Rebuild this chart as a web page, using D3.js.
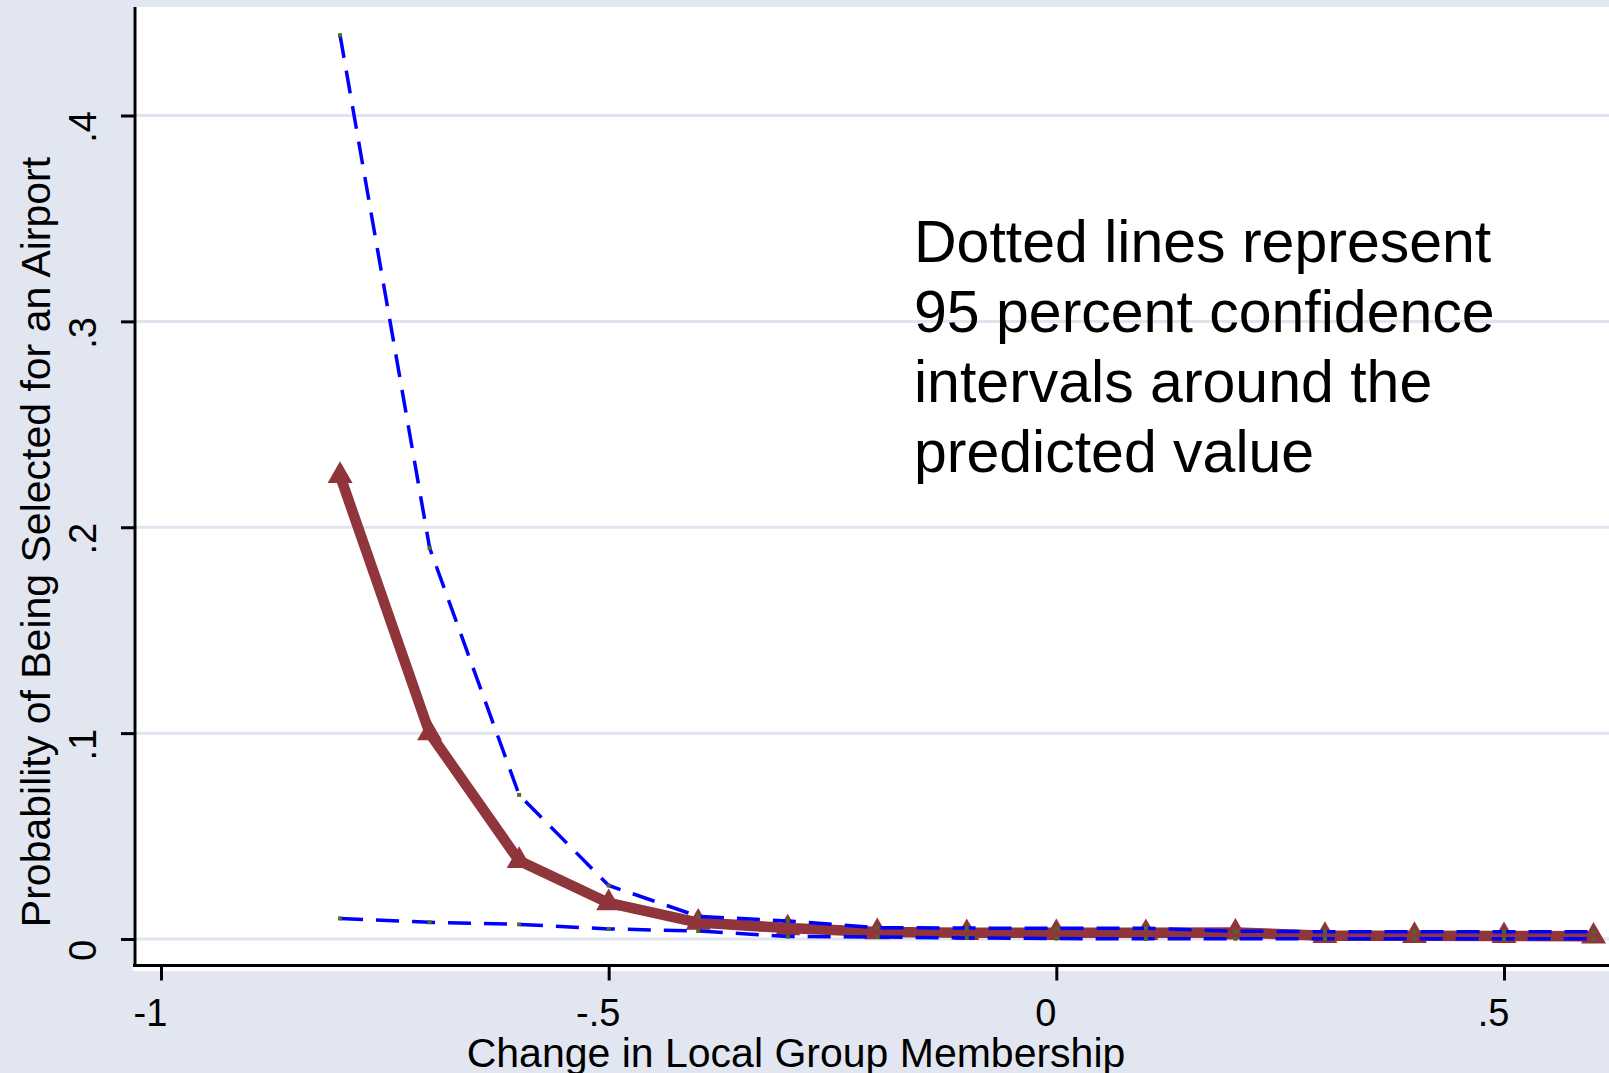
<!DOCTYPE html>
<html>
<head>
<meta charset="utf-8">
<script src="https://cdn.jsdelivr.net/npm/d3@7"></script>
<style>
  body { margin: 0; background: #e1e6f0; }
  text { font-family: "Liberation Sans", Arial, Helvetica, sans-serif; fill: #000; }
</style>
</head>
<body>
<svg id="chart" width="1609" height="1073"></svg>
<script>
// data
var xValues   = [-0.8, -0.7, -0.6, -0.5, -0.4, -0.3, -0.2, -0.1, 0, 0.1, 0.2, 0.3, 0.4, 0.5, 0.6];
var predicted = [0.225, 0.100, 0.038, 0.0175, 0.008, 0.0053, 0.0034, 0.003, 0.003, 0.003, 0.0032, 0.0016, 0.0016, 0.0015, 0.0013];
var upperCI   = [0.439, 0.190, 0.070, 0.026, 0.011, 0.0088, 0.0055, 0.0053, 0.0052, 0.0052, 0.0038, 0.0035, 0.0035, 0.0035, 0.0035];
var lowerCI   = [0.010, 0.0081, 0.0071, 0.0049, 0.0039, 0.0012, 0.0010, 0.0005, 0.0002, 0.0001, 0.0001, 0.0001, 0.0001, 0.0001, 0.0001];

var xTicks = [-1, -0.5, 0, 0.5];
var xTickLabels = ["-1", "-.5", "0", ".5"];
var yTicks = [0, 0.1, 0.2, 0.3, 0.4];
var yTickLabels = ["0", ".1", ".2", ".3", ".4"];

var xTitle = "Change in Local Group Membership";
var yTitle = "Probability of Being Selected for an Airport";
var noteLines = ["Dotted lines represent", "95 percent confidence", "intervals around the", "predicted value"];

var svg = d3.select("#chart");

//Plot region
var plotLeft = 133, plotTop = 7, plotRight = 1609, plotBottom = 971;
var axisY = 965.5, axisX = 135;

var xScale = d3.scaleLinear().domain([-1, 0.5]).range([161, 1504]);
var yScale = d3.scaleLinear().domain([0, 0.4]).range([939, 115.5]);

svg.append("rect")
	.attr("x", 0).attr("y", 0)
	.attr("width", 1609).attr("height", 1073)
	.attr("fill", "#e1e6f0");

svg.append("rect")
	.attr("x", plotLeft).attr("y", plotTop)
	.attr("width", plotRight - plotLeft)
	.attr("height", plotBottom - plotTop)
	.attr("fill", "#ffffff");

//Gridlines
svg.selectAll("line.grid")
	.data(yTicks)
	.enter()
	.append("line")
		.attr("class", "grid")
		.attr("x1", axisX).attr("x2", plotRight)
		.attr("y1", function(d) { return yScale(d); })
		.attr("y2", function(d) { return yScale(d); })
		.attr("stroke", "#dfe4ee")
		.attr("stroke-width", 3);

//Predicted value line
var pts = xValues.map(function(x, i) { return {x: x, y: predicted[i]}; });
var lineGen = d3.line()
	.x(function(d) { return xScale(d.x); })
	.y(function(d) { return yScale(d.y); });

svg.append("path")
	.attr("d", lineGen(pts))
	.attr("fill", "none")
	.attr("stroke", "#90353b")
	.attr("stroke-width", 10.5)
	.attr("stroke-linejoin", "round");

svg.selectAll("path.tri")
	.data(pts)
	.enter()
	.append("path")
		.attr("class", "tri")
		.attr("d", d3.symbol(d3.symbolTriangle, 270))
		.attr("transform", function(d) { return "translate(" + xScale(d.x) + "," + yScale(d.y) + ")"; })
		.attr("fill", "#90353b");

//Confidence interval lines
[upperCI, lowerCI].forEach(function(series) {
	var cpts = xValues.map(function(x, i) { return {x: x, y: series[i]}; });
	svg.append("path")
		.attr("d", lineGen(cpts))
		.attr("fill", "none")
		.attr("stroke", "#0000ff")
		.attr("stroke-width", 3.5)
		.attr("stroke-dasharray", "23,13");
	svg.selectAll(null)
		.data(cpts)
		.enter()
		.append("rect")
			.attr("x", function(d) { return xScale(d.x) - 2; })
			.attr("y", function(d) { return yScale(d.y) - 2; })
			.attr("width", 4).attr("height", 4)
			.attr("fill", "#4b6b2e");
});

//Axes
var xAxis = svg.append("g")
	.attr("transform", "translate(0," + axisY + ")")
	.call(d3.axisBottom(xScale)
		.tickValues(xTicks)
		.tickFormat(function(d, i) { return xTickLabels[i]; })
		.tickSize(15)
		.tickSizeOuter(0));
xAxis.select(".domain").remove();
xAxis.selectAll(".tick line").attr("stroke", "#000").attr("stroke-width", 3);
xAxis.selectAll(".tick text")
	.attr("y", 34)
	.attr("dx", -11)
	.style("font-size", "38px")
	.style("font-family", "Liberation Sans, Arial, sans-serif")
	.attr("fill", "#000");

var yAxis = svg.append("g")
	.attr("transform", "translate(" + axisX + ",0)")
	.call(d3.axisLeft(yScale)
		.tickValues(yTicks)
		.tickFormat(function(d, i) { return yTickLabels[i]; })
		.tickSize(14)
		.tickSizeOuter(0));
yAxis.select(".domain").remove();
yAxis.selectAll(".tick line").attr("stroke", "#000").attr("stroke-width", 3);
yAxis.selectAll(".tick text")
	.attr("transform", "rotate(-90)")
	.attr("x", -11)
	.attr("y", -39)
	.attr("dy", 0)
	.attr("text-anchor", "middle")
	.style("font-size", "38px")
	.style("font-family", "Liberation Sans, Arial, sans-serif")
	.attr("fill", "#000");

svg.append("line")
	.attr("x1", axisX).attr("x2", axisX)
	.attr("y1", plotTop).attr("y2", axisY + 1.5)
	.attr("stroke", "#000").attr("stroke-width", 3);
svg.append("line")
	.attr("x1", plotLeft).attr("x2", plotRight)
	.attr("y1", axisY).attr("y2", axisY)
	.attr("stroke", "#000").attr("stroke-width", 3);

//Titles
svg.append("text")
	.attr("x", 796).attr("y", 1067)
	.attr("text-anchor", "middle")
	.style("font-size", "41px")
	.text(xTitle);

svg.append("text")
	.attr("transform", "translate(50,542) rotate(-90)")
	.attr("text-anchor", "middle")
	.style("font-size", "41px")
	.text(yTitle);

//Note
svg.selectAll("text.note")
	.data(noteLines)
	.enter()
	.append("text")
		.attr("class", "note")
		.attr("x", 914)
		.attr("y", function(d, i) { return 262 + i * 70; })
		.style("font-size", "59px")
		.attr("fill", "#111")
		.text(function(d) { return d; });
</script>
</body>
</html>
